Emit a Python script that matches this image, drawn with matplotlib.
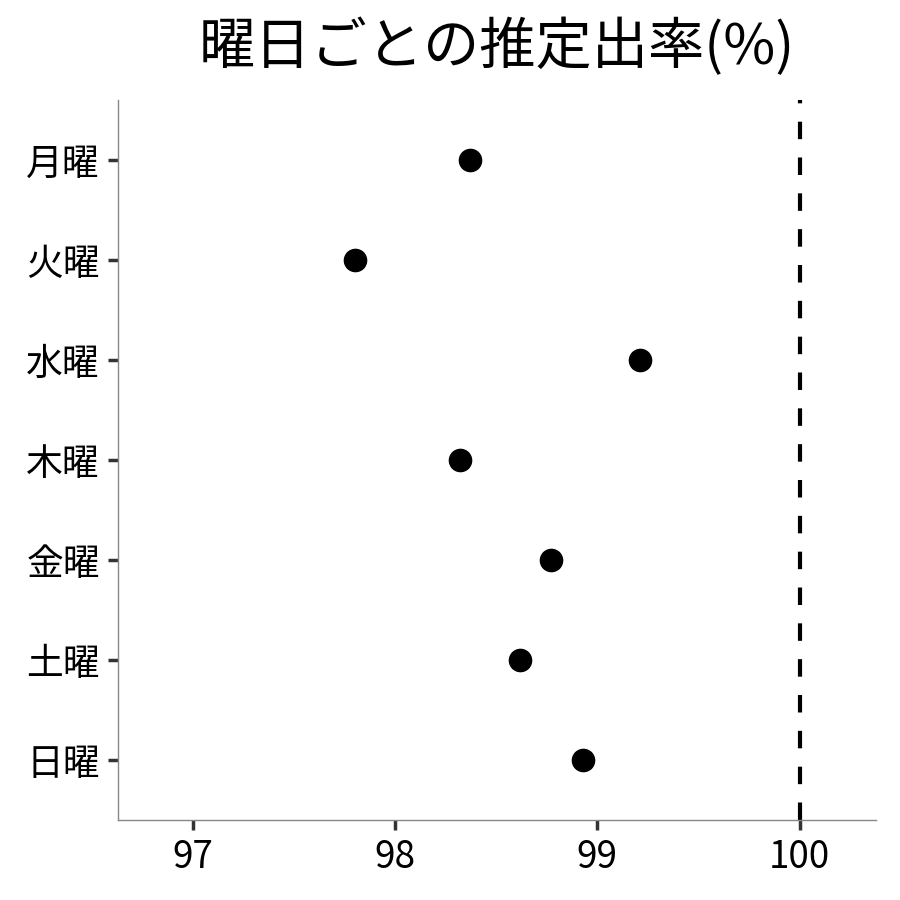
import matplotlib
matplotlib.use("Agg")
import matplotlib.pyplot as plt
import numpy as np

plt.rcParams['font.family'] = ['Noto Sans CJK JP', 'DejaVu Sans']

days = ["月曜", "火曜", "水曜", "木曜", "金曜", "土曜", "日曜"]
rates = [98.37, 97.80, 99.21, 98.32, 98.77, 98.62, 98.93]
ref_value = 100
x_ticks = [97, 98, 99, 100]

fig = plt.figure(figsize=(9, 9), dpi=100)
ax = fig.add_axes([0.131, 0.089, 0.842, 0.8])

y = np.arange(len(days))[::-1]
ax.plot(rates, y, linestyle="none", marker="o", markersize=16, color="black")
ax.axvline(ref_value, color="black", linewidth=3.0, linestyle=(0, (4.2, 4.4)))

ax.set_yticks(y)
ax.set_yticklabels(days)
ax.set_ylim(-0.6, len(days) - 0.4)
ax.set_xticks(x_ticks)
ax.set_xlim(96.63, 100.376)

for side in ["top", "right"]:
    ax.spines[side].set_visible(False)
for side in ["left", "bottom"]:
    ax.spines[side].set_color("#888888")
    ax.spines[side].set_linewidth(1.0)

ax.tick_params(axis="both", length=7, width=2.5, color="#333333", labelsize=26.5, labelcolor="black", pad=6)

ax.set_title("曜日ごとの推定出率(%)", fontsize=40.5, pad=26)

fig.savefig("out.png", dpi=100)
